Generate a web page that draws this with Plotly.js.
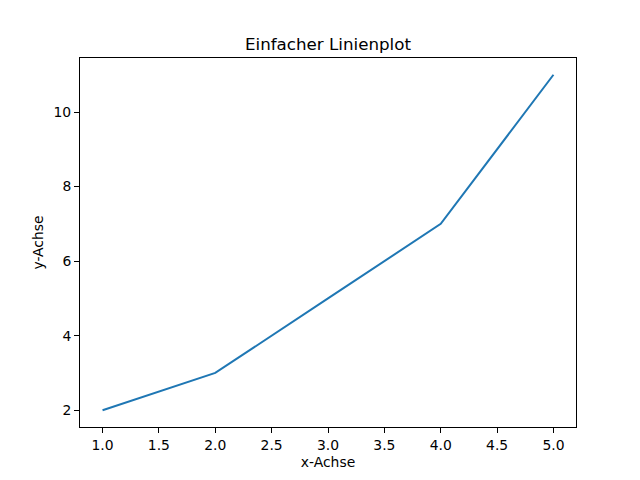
<!DOCTYPE html>
<html>
<head>
<meta charset="utf-8">
<script src="https://cdn.plot.ly/plotly-3.0.1.min.js"></script>
<style>
  html, body { margin: 0; padding: 0; background: #fff; }
  #chart { width: 640px; height: 480px; }
</style>
</head>
<body>
<div id="chart"></div>
<script>
// values
var xValues = [1, 2, 3, 4, 5];
var yValues = [2, 3, 5, 7, 11];
var xTicks = [1.0, 1.5, 2.0, 2.5, 3.0, 3.5, 4.0, 4.5, 5.0];
var xTickLabels = ['1.0', '1.5', '2.0', '2.5', '3.0', '3.5', '4.0', '4.5', '5.0'];
var yTicks = [2, 4, 6, 8, 10];

var fontFamily = 'DejaVu Sans, sans-serif';

var data = [
    {
        x: xValues,
        y: yValues,
        type: 'scatter',
        mode: 'lines',
        line: { color: '#1f77b4', width: 2 }
    }
];

var axisCommon = {
    showgrid: false,
    zeroline: false,
    showline: true,
    mirror: true,
    linecolor: '#000',
    linewidth: 1,
    ticks: 'outside',
    ticklen: 5,
    tickwidth: 1,
    tickcolor: '#000',
    tickfont: { family: fontFamily, size: 13.9, color: '#000' }
};

var layout = {
    width: 640,
    height: 480,
    margin: { l: 80, r: 64, t: 58, b: 53 },
    paper_bgcolor: '#fff',
    plot_bgcolor: '#fff',
    showlegend: false,
    title: {
        text: 'Einfacher Linienplot',
        font: { family: fontFamily, size: 16.7, color: '#000' },
        xref: 'paper',
        x: 0.5,
        xanchor: 'center',
        yref: 'paper',
        y: 1,
        yanchor: 'bottom',
        pad: { b: 8 }
    },
    xaxis: Object.assign({}, axisCommon, {
        range: [0.8, 5.2],
        tickvals: xTicks,
        ticktext: xTickLabels,
        title: { text: 'x-Achse', font: { family: fontFamily, size: 13.9, color: '#000' }, standoff: 5 }
    }),
    yaxis: Object.assign({}, axisCommon, {
        range: [1.55, 11.45],
        tickvals: yTicks,
        title: { text: 'y-Achse', font: { family: fontFamily, size: 13.9, color: '#000' }, standoff: 6 }
    })
};

Plotly.newPlot('chart', data, layout, { staticPlot: true, displayModeBar: false });
</script>
</body>
</html>
